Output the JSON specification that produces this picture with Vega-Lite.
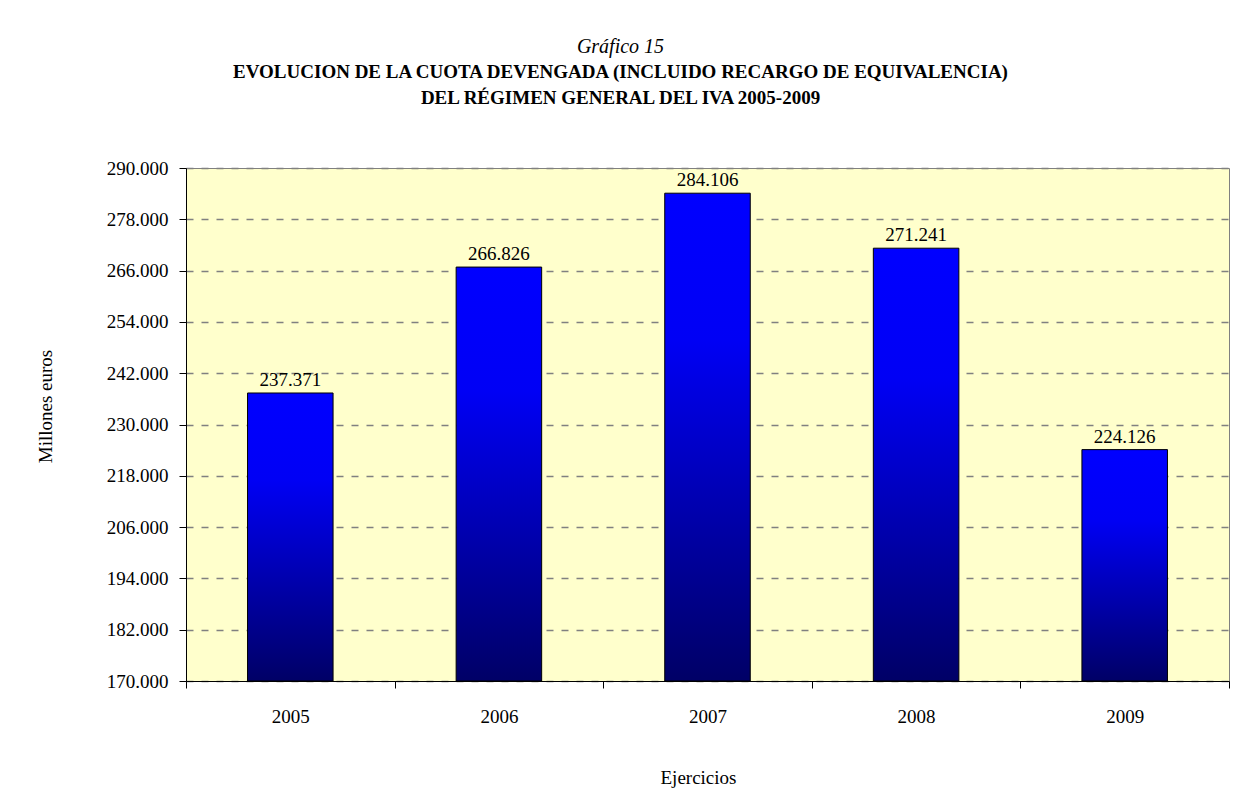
{
  "$schema": "https://vega.github.io/schema/vega-lite/v6.json",
  "autosize": "none",
  "width": 1043,
  "height": 513,
  "padding": {"left": 186, "top": 168, "right": 10, "bottom": 128},
  "background": "white",
  "title": {
    "text": "Gráfico 15",
    "subtitle": ["EVOLUCION DE LA CUOTA DEVENGADA (INCLUIDO RECARGO DE EQUIVALENCIA)", "DEL RÉGIMEN GENERAL DEL IVA 2005-2009"],
    "anchor": "middle",
    "frame": "group",
    "dx": -87,
    "offset": 51,
    "font": "Liberation Serif",
    "fontSize": 20,
    "fontStyle": "italic",
    "fontWeight": "normal",
    "color": "black",
    "subtitleFont": "Liberation Serif",
    "subtitleFontSize": 19,
    "subtitleFontWeight": "bold",
    "subtitleColor": "black",
    "subtitleLineHeight": 26,
    "subtitlePadding": 6
  },
  "data": {
    "values": [
      {"year": "2005", "value": 237371},
      {"year": "2006", "value": 266826},
      {"year": "2007", "value": 284106},
      {"year": "2008", "value": 271241},
      {"year": "2009", "value": 224126}
    ]
  },
  "encoding": {
    "x": {
      "field": "year",
      "type": "ordinal",
      "scale": {"paddingInner": 0, "paddingOuter": 0},
      "axis": {
        "title": "Ejercicios",
        "labelAngle": 0,
        "tickBand": "extent",
        "tickSize": 7,
        "tickColor": "black",
        "domainColor": "black",
        "labelPadding": 34,
        "labelFontSize": 19,
        "labelFont": "Liberation Serif",
        "labelColor": "black",
        "labelBaseline": "alphabetic",
        "titleFont": "Liberation Serif",
        "titleFontSize": 19,
        "titleFontWeight": "normal",
        "titleColor": "black",
        "titleX": 512,
        "titleY": 102,
        "titleAlign": "center",
        "titleBaseline": "alphabetic"
      }
    },
    "y": {
      "field": "value",
      "type": "quantitative",
      "scale": {"domain": [170000, 290000], "zero": false, "nice": false},
      "axis": {
        "title": "Millones euros",
        "values": [170000, 182000, 194000, 206000, 218000, 230000, 242000, 254000, 266000, 278000, 290000],
        "format": ",d",
        "grid": true,
        "gridColor": "#808080",
        "gridDash": [7, 8],
        "gridWidth": 1.5,
        "gridOpacity": 1,
        "tickSize": 7,
        "tickColor": "black",
        "domainColor": "black",
        "labelPadding": 11,
        "labelFontSize": 19,
        "labelFont": "Liberation Serif",
        "labelColor": "black",
        "titleFont": "Liberation Serif",
        "titleFontSize": 19,
        "titleFontWeight": "normal",
        "titleColor": "black",
        "titleX": -141,
        "titleY": 238,
        "titleAngle": -90,
        "titleAlign": "center",
        "titleBaseline": "middle"
      }
    }
  },
  "layer": [
    {
      "mark": {
        "type": "bar",
        "width": {"band": 0.41},
        "stroke": "black",
        "strokeWidth": 1,
        "color": {
          "gradient": "linear",
          "x1": 0, "y1": 0, "x2": 0, "y2": 1,
          "stops": [
            {"offset": 0, "color": "#0000FF"},
            {"offset": 0.3, "color": "#0000F5"},
            {"offset": 1, "color": "#000066"}
          ]
        }
      },
      "encoding": {
        "y2": {"datum": 170000}
      }
    },
    {
      "mark": {"type": "text", "baseline": "alphabetic", "dy": -7, "font": "Liberation Serif", "fontSize": 19, "color": "black"},
      "encoding": {
        "text": {"field": "value", "type": "quantitative", "format": ",d"}
      }
    }
  ],
  "config": {
    "locale": {
      "number": {"decimal": ",", "thousands": ".", "grouping": [3], "currency": ["", " €"]}
    },
    "view": {"fill": "#FFFFCC", "stroke": "#808080", "strokeWidth": 1}
  }
}
